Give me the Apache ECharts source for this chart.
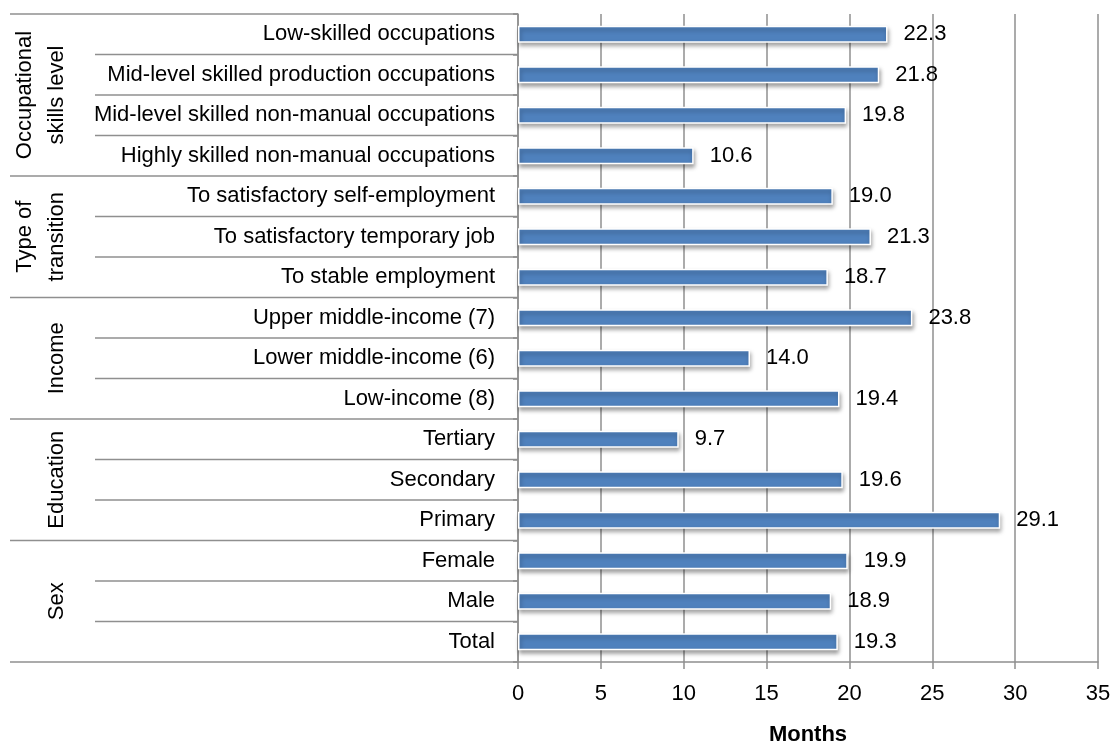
<!DOCTYPE html>
<html>
<head>
<meta charset="utf-8">
<script src="https://cdn.jsdelivr.net/npm/echarts@6/dist/echarts.min.js"></script>
<style>
  html, body { margin: 0; padding: 0; background: #fff; }
  #chart { width: 1111px; height: 742px; }
</style>
</head>
<body>
<div id="chart"></div>
<script>
// Categories listed top to bottom
const categories = [
  'Low-skilled occupations',
  'Mid-level skilled production occupations',
  'Mid-level skilled non-manual occupations',
  'Highly skilled non-manual occupations',
  'To satisfactory self-employment',
  'To satisfactory temporary job',
  'To stable employment',
  'Upper middle-income (7)',
  'Lower middle-income (6)',
  'Low-income (8)',
  'Tertiary',
  'Secondary',
  'Primary',
  'Female',
  'Male',
  'Total'
];

// Average transition duration, months
const months = [22.3, 21.8, 19.8, 10.6, 19.0, 21.3, 18.7, 23.8, 14.0, 19.4, 9.7, 19.6, 29.1, 19.9, 18.9, 19.3];

// Group headings and how many categories each one spans
const groupNames = ['Occupational\nskills level', 'Type of\ntransition', 'Income', 'Education', 'Sex'];
const groupSizes = [4, 3, 3, 3, 3];

const xTicks = [0, 5, 10, 15, 20, 25, 30, 35];

const FONT = '"Liberation Sans", Arial, sans-serif';
const LINE = '#8f8f8f';

const chart = echarts.init(document.getElementById('chart'), null, { renderer: 'canvas' });

chart.setOption({
  animation: false,
  backgroundColor: '#ffffff',
  grid: { left: 518, right: 13, top: 14, bottom: 80, containLabel: false, outerBoundsMode: 'none' },
  xAxis: {
    type: 'value',
    min: xTicks[0],
    max: xTicks[xTicks.length - 1],
    interval: 5,
    name: 'Months',
    nameLocation: 'middle',
    nameGap: 62,
    nameTextStyle: { fontFamily: FONT, fontSize: 22, fontWeight: 'bold', color: '#000' },
    axisLine: { show: true, lineStyle: { color: LINE, width: 1.5 } },
    axisTick: { show: true, length: 7, lineStyle: { color: LINE, width: 1.5 } },
    axisLabel: { fontFamily: FONT, fontSize: 22, color: '#000', margin: 21 },
    splitLine: { show: true, lineStyle: { color: LINE, width: 1.5 } }
  },
  yAxis: {
    type: 'category',
    data: categories,
    inverse: true,
    axisLine: { show: true, lineStyle: { color: LINE, width: 1.5 } },
    axisTick: { show: true, length: 5, lineStyle: { color: LINE, width: 1.5 } },
    axisLabel: { fontFamily: FONT, fontSize: 22, color: '#000', margin: 23 },
    splitLine: { show: false }
  },
  series: [{
    type: 'bar',
    data: months,
    barWidth: 17,
    itemStyle: {
      color: '#4f81bd',
      borderColor: '#ffffff',
      borderWidth: 1.5,
      shadowColor: 'rgba(0,0,0,0.35)',
      shadowBlur: 4,
      shadowOffsetX: 1,
      shadowOffsetY: 3
    },
    label: {
      show: true,
      position: 'right',
      distance: 16,
      fontFamily: FONT,
      fontSize: 22,
      color: '#000',
      formatter: p => p.value.toFixed(1)
    }
  }]
});

// Row separators and rotated group headings in the label column
function drawGroups() {
  const c0 = chart.convertToPixel({ yAxisIndex: 0 }, categories[0]);
  const c1 = chart.convertToPixel({ yAxisIndex: 0 }, categories[1]);
  const band = c1 - c0;
  const top = c0 - band / 2;
  const axisX = chart.convertToPixel({ xAxisIndex: 0 }, 0);
  const outerLeft = 10, innerLeft = 95;

  const els = [];
  const groupStarts = new Set();
  let acc = 0;
  groupSizes.forEach(s => { groupStarts.add(acc); acc += s; });
  groupStarts.add(acc);

  for (let i = 0; i <= categories.length; i++) {
    const y = top + i * band;
    const x1 = groupStarts.has(i) ? outerLeft : innerLeft;
    els.push({
      type: 'line',
      shape: { x1: x1, y1: y, x2: axisX, y2: y },
      style: { stroke: LINE, lineWidth: 1.5 },
      silent: true
    });
  }

  let start = 0;
  groupNames.forEach((name, gi) => {
    const n = groupSizes[gi];
    const cy = top + (start + n / 2) * band;
    const lines = name.split('\n').length;
    const cx = 57 - (lines - 1) * 16;
    els.push({
      type: 'text',
      x: cx,
      y: cy,
      rotation: Math.PI / 2,
      style: {
        text: name,
        fontFamily: FONT,
        fontSize: 22,
        fill: '#000',
        align: 'center',
        verticalAlign: 'middle',
        lineHeight: 32
      },
      silent: true
    });
    start += n;
  });

  chart.setOption({ graphic: els });
}
drawGroups();
</script>
</body>
</html>
